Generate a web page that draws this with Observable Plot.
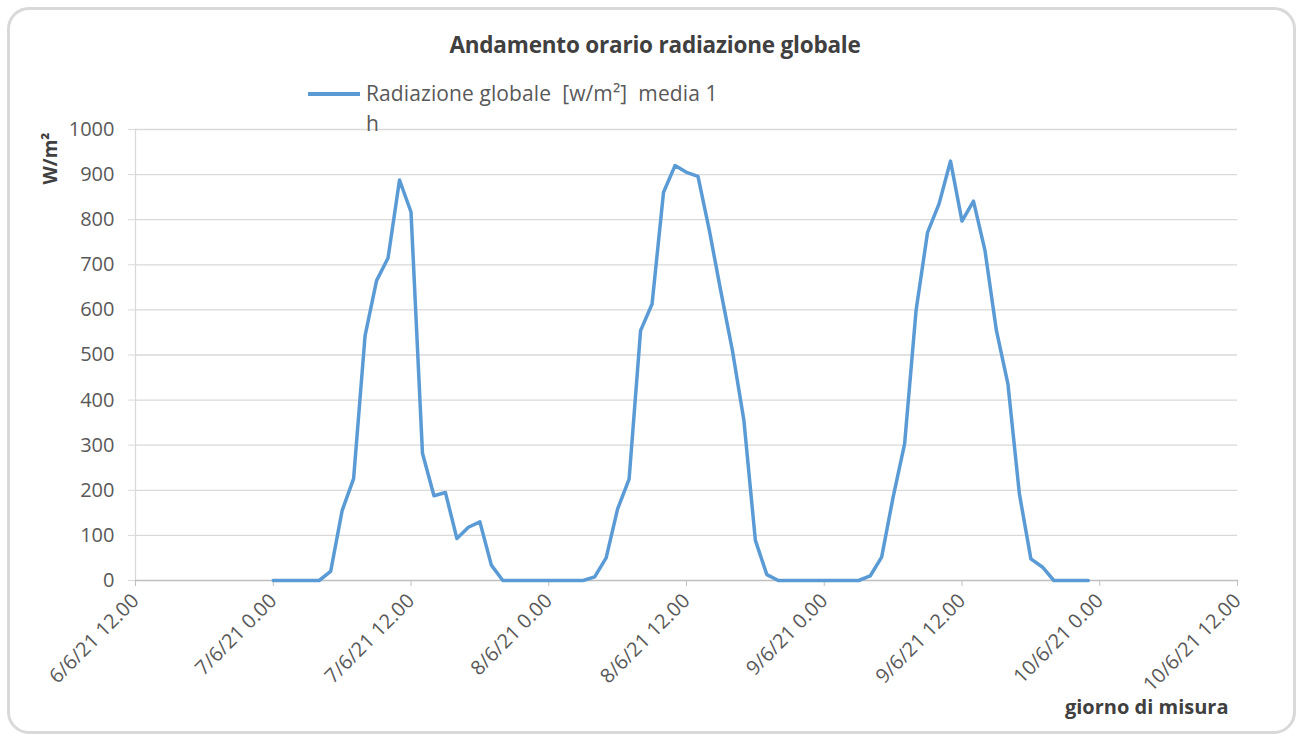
<!DOCTYPE html>
<html>
<head>
<meta charset="utf-8">
<script src="https://cdn.jsdelivr.net/npm/d3@7"></script>
<script src="https://cdn.jsdelivr.net/npm/@observablehq/plot@0.6"></script>
<style>
  html, body { margin: 0; padding: 0; background: #fff; }
  #wrap { position: relative; width: 1305px; height: 740px; overflow: hidden; font-family: "Open Sans", sans-serif; }
  #box { position: absolute; left: 7px; top: 7px; width: 1289px; height: 727px; border: 3px solid #d9d9d9; border-radius: 22px; box-sizing: border-box; }
  #title { position: absolute; left: 0; width: 1310px; top: 29px; text-align: center; font-weight: bold; font-size: 22.5px; color: #404040; letter-spacing: -0.2px; }
  #legend { position: absolute; left: 308px; top: 78px; font-size: 21px; color: #595959; }
  #legend .sw { position: absolute; left: 0; top: 14px; width: 52px; height: 3.5px; background: #5b9bd5; }
  #legend .tx { position: absolute; left: 58px; top: 0; white-space: nowrap; line-height: 30px; letter-spacing: 0.1px; }
  #chart { position: absolute; left: 0; top: 0; }
</style>
</head>
<body>
<div id="wrap">
  <div id="box"></div>
  <div id="chart"></div>
  <div id="title">Andamento orario radiazione globale</div>
  <div id="legend"><div class="sw"></div><div class="tx">Radiazione globale&nbsp; [w/m²]&nbsp; media 1<br>h</div></div>
</div>
<script>
// ---- data ----
const seriesName = "Radiazione globale  [w/m²]  media 1 h";
const startTime = "2021-06-07T00:00:00Z";   // first hourly sample
const radiazione = [
  // 7/6/21 00:00 .. 23:00
  0, 0, 0, 0, 0, 20, 155, 226, 543, 665, 715, 888, 817, 282, 188, 195, 93, 118, 130, 34, 0, 0, 0, 0,
  // 8/6/21 00:00 .. 23:00
  0, 0, 0, 0, 8, 50, 159, 225, 554, 613, 861, 920, 905, 896, 775, 640, 510, 355, 89, 13, 0, 0, 0, 0,
  // 9/6/21 00:00 .. 23:00
  0, 0, 0, 0, 10, 52, 185, 303, 599, 772, 835, 930, 797, 841, 732, 554, 436, 192, 48, 30, 0, 0, 0, 0
];
const xTicks = [
  "2021-06-06T12:00:00Z", "2021-06-07T00:00:00Z", "2021-06-07T12:00:00Z",
  "2021-06-08T00:00:00Z", "2021-06-08T12:00:00Z", "2021-06-09T00:00:00Z",
  "2021-06-09T12:00:00Z", "2021-06-10T00:00:00Z", "2021-06-10T12:00:00Z"
];
const yTicks = [0, 100, 200, 300, 400, 500, 600, 700, 800, 900, 1000];
const yLabel = "W/m²";
const xLabel = "giorno di misura";

// ---- build table ----
const t0 = new Date(startTime);
const data = radiazione.map((v, i) => ({ t: d3.utcHour.offset(t0, i), v }));
const tickDates = xTicks.map(s => new Date(s));
const fmt = d => `${d.getUTCDate()}/${d.getUTCMonth() + 1}/${String(d.getUTCFullYear()).slice(2)} ${d.getUTCHours()}.00`;

const chart = Plot.plot({
  width: 1305,
  height: 740,
  marginLeft: 135,
  marginRight: 68,
  marginTop: 129,
  marginBottom: 160,
  style: { fontFamily: "Open Sans, sans-serif", background: "transparent", overflow: "visible" },
  x: { type: "utc", domain: [tickDates[0], tickDates[tickDates.length - 1]] },
  y: { domain: [0, 1000] },
  marks: [
    Plot.gridY(yTicks.filter(d => d > 0), { stroke: "#d9d9d9", strokeOpacity: 1, strokeWidth: 1.3 }),
    Plot.frame({ anchor: "left", stroke: "#d9d9d9", strokeWidth: 1.3 }),
    Plot.frame({ anchor: "bottom", stroke: "#bfbfbf", strokeWidth: 1.3 }),
    Plot.axisY({ ticks: yTicks, tickFormat: d => String(d), tickSize: 7, tickPadding: 14, fontSize: 20, color: "#595959", stroke: "#d9d9d9", label: null }),
    Plot.axisX({ ticks: tickDates, tickFormat: fmt, tickRotate: -45, tickSize: 6, tickPadding: 11, fontSize: 20, color: "#595959", stroke: "#bfbfbf", label: null }),
    Plot.lineY(data, { x: "t", y: "v", stroke: "#5b9bd5", strokeWidth: 3.5, strokeLinejoin: "round" }),
    Plot.text([yLabel], { frameAnchor: "top-left", dx: -92, dy: 29, rotate: -90, text: d => d, fontWeight: "bold", fontSize: 19, fill: "#404040", textAnchor: "middle" }),
    Plot.text([xLabel], { frameAnchor: "bottom-right", dx: -9, dy: 133, text: d => d, fontWeight: "bold", fontSize: 20, fill: "#404040", textAnchor: "end" })
  ]
});
document.getElementById("chart").appendChild(chart);
</script>
</body>
</html>
